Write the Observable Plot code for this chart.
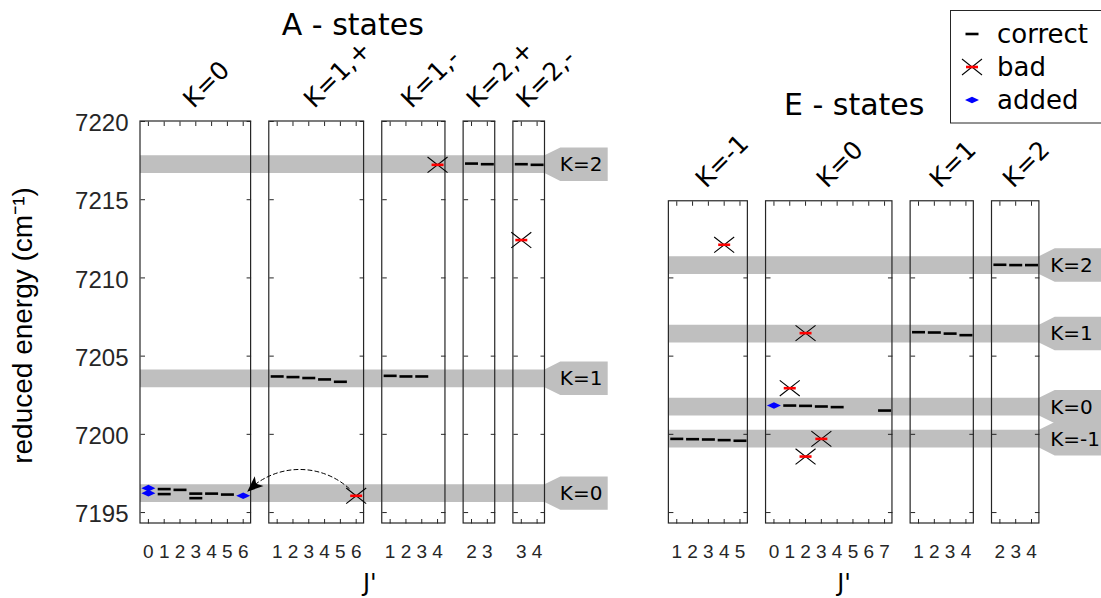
<!DOCTYPE html>
<html><head><meta charset="utf-8">
<script src="https://cdn.jsdelivr.net/npm/d3@7"></script>
<script src="https://cdn.jsdelivr.net/npm/@observablehq/plot@0.6"></script>
<style>
body{margin:0;background:#fff;}
#wrap{position:relative;width:1101px;height:598px;overflow:hidden;background:#fff;}
#legend{position:absolute;left:950px;top:10px;}
</style></head><body>
<div id="wrap"><div id="chart"></div>
<svg id="legend" width="160" height="116" font-family="DejaVu Sans" font-size="26">
  <rect x="0.5" y="0.5" width="170" height="112.5" fill="white" stroke="#262626" stroke-width="1"/>
  <line x1="15.5" x2="28.5" y1="24" y2="24" stroke="black" stroke-width="2.6"/>
  <text x="47" y="32.5" fill="black">correct</text>
  <line x1="12" x2="32" y1="49" y2="65" stroke="black" stroke-width="1.1"/>
  <line x1="12" x2="32" y1="65" y2="49" stroke="black" stroke-width="1.1"/>
  <line x1="16" x2="28" y1="57" y2="57" stroke="red" stroke-width="2.6"/>
  <text x="47" y="66" fill="black">bad</text>
  <path d="M15,90L22,86.7L29,90L22,93.3Z" fill="#0000ff"/>
  <text x="47" y="99" fill="black">added</text>
</svg>
</div>
<script>
// ---- panels (columns) ----
const panelGroup = ["A","A","A","A","A","E","E","E","E"];
const panelLabel = ["K=0","K=1,+","K=1,-","K=2,+","K=2,-","K=-1","K=0","K=1","K=2"];
const panelJmin  = [0,1,1,2,3,1,0,1,2];
const panelJmax  = [6,6,4,3,4,5,7,4,4];

// ---- groups ----
const groupNames = ["A","E"];
const groupTitles = ["A - states","E - states"];
const groupTopEnergy = [7220, 7214.9];
const bottomEnergy = 7194.3;
const yTicks = [7195,7200,7205,7210,7215,7220];

// ---- K bands ----
const bandGroup  = ["A","A","A","E","E","E","E"];
const bandLabel  = ["K=2","K=1","K=0","K=2","K=1","K=0","K=-1"];
const bandEnergy = [7217.24,7203.55,7196.21,7210.79,7206.41,7201.74,7199.69];

// ---- correct levels ----
const correctPanel = [0,0,0,0,0,0,0, 1,1,1,1,1, 2,2,2, 3,3, 4,4, 5,5,5,5,5, 6,6,6,6,6, 7,7,7,7, 8,8,8];
const correctJ     = [1,1,2,3,3,4,5, 1,2,3,4,5, 1,2,3, 2,3, 3,4, 1,2,3,4,5, 1,2,3,4,7, 1,2,3,4, 2,3,4];
const correctE = [7196.50,7196.18,7196.45,7196.21,7195.92,7196.21,7196.15,
  7203.70,7203.66,7203.60,7203.51,7203.36,
  7203.74,7203.70,7203.70,
  7217.31,7217.27,
  7217.27,7217.23,
  7199.71,7199.69,7199.67,7199.63,7199.59,
  7201.84,7201.82,7201.78,7201.74,7201.52,
  7206.53,7206.51,7206.44,7206.34,
  7210.84,7210.82,7210.82];

// ---- bad levels ----
const badPanel = [1,2,4,5,6,6,6,6];
const badJ     = [6,4,3,4,1,2,3,2];
const badE     = [7196.07,7217.23,7212.42,7212.12,7202.95,7206.47,7199.71,7198.58];

// ---- added levels ----
const addedPanel = [0,0,0,6];
const addedJ     = [0,0,6,0];
const addedE     = [7196.56,7196.24,7196.07,7201.84];

// ---- reassignment arrow (bad index -> added index) ----
const arrowFrom = 0, arrowTo = 2;

// ---- layout ----
const panelGap = 1.15, groupGap = 7.84, jPad = 0.5, xMax = 60.82;
let cursor = 0;
const panels = panelLabel.map((label, i) => {
  if (i > 0) cursor += panelGroup[i] === panelGroup[i-1] ? panelGap : groupGap;
  const x1 = cursor;
  cursor += panelJmax[i] - panelJmin[i] + 2*jPad;
  const g = groupNames.indexOf(panelGroup[i]);
  return {label, group: panelGroup[i], jmin: panelJmin[i], jmax: panelJmax[i], x1, x2: cursor,
          offset: x1 + jPad - panelJmin[i], top: groupTopEnergy[g], bottom: bottomEnergy};
});
const ux = (p, j) => panels[p].offset + j;
const groups = groupNames.map((name, k) => {
  const ps = panels.filter(p => p.group === name);
  const x1 = ps[0].x1, x2 = ps[ps.length-1].x2;
  return {name, title: groupTitles[k], x1, x2, center: (x1+x2)/2, top: groupTopEnergy[k], bottom: bottomEnergy};
});

const bandHalf = 0.565, boxHalf = 1.07, flare = 1.0, boxLen = 4.0;
const bands = bandLabel.map((label, i) => {
  const g = groups.find(d => d.name === bandGroup[i]);
  return {key: i, group: bandGroup[i], label, e: bandEnergy[i], start: g.x1, end: g.x2};
});
const bandPts = bands.flatMap(b => [
  {key: b.key, x: b.start, lo: b.e - bandHalf, hi: b.e + bandHalf},
  {key: b.key, x: b.end, lo: b.e - bandHalf, hi: b.e + bandHalf},
  {key: b.key, x: b.end + flare, lo: b.e - boxHalf, hi: b.e + boxHalf},
  {key: b.key, x: Math.min(b.end + boxLen, xMax), lo: b.e - boxHalf, hi: b.e + boxHalf}
]);

const correct = correctPanel.map((p, i) => ({x: ux(p, correctJ[i]), y: correctE[i]}));
const bad = badPanel.map((p, i) => ({x: ux(p, badJ[i]), y: badE[i]}));
const added = addedPanel.map((p, i) => ({x: ux(p, addedJ[i]), y: addedE[i]}));
const arrowRow = {x1: bad[arrowFrom].x, y1: bad[arrowFrom].y, x2: added[arrowTo].x, y2: added[arrowTo].y};

const yTickRows = panels.flatMap(p => yTicks.filter(t => t >= p.bottom && t <= p.top + 1e-9)
  .map(t => ({x1: p.x1, x2: p.x2, y: t})));
const jTickRows = panels.flatMap(p => d3.range(p.jmin, p.jmax + 1)
  .map(j => ({x: p.offset + j, j, top: p.top, bottom: p.bottom})));
const jLookup = new Map(jTickRows.map(d => [d.x, d.j]));

// ---- symbols ----
const TL = 4.5;
const symUp = {draw(c){c.moveTo(0,0);c.lineTo(0,-TL);}};
const symDown = {draw(c){c.moveTo(0,0);c.lineTo(0,TL);}};
const symRight = {draw(c){c.moveTo(0,0);c.lineTo(TL,0);}};
const symLeft = {draw(c){c.moveTo(0,0);c.lineTo(-TL,0);}};
const dashSym = {draw(c){c.moveTo(-6.5,0);c.lineTo(6.5,0);}};
const crossSym = {draw(c){c.moveTo(-10,-7.8);c.lineTo(10,7.8);c.moveTo(-10,7.8);c.lineTo(10,-7.8);}};
const redSym = {draw(c){c.moveTo(-6,0);c.lineTo(6,0);}};
const diamondSym = {draw(c){c.moveTo(-7,0);c.lineTo(0,-3.3);c.lineTo(7,0);c.lineTo(0,3.3);c.closePath();}};
const headSym = {draw(c){c.moveTo(0,0);c.lineTo(-6.5,16);c.lineTo(0,12);c.lineTo(6.5,16);c.closePath();}};

const frameColor = "#262626";
const grey = "#bfbfbf";

const chart = Plot.plot({
  width: 1101, height: 598,
  marginLeft: 140, marginRight: 0, marginTop: 121, marginBottom: 75,
  style: {fontFamily: "DejaVu Sans", background: "white", overflow: "visible"},
  x: {domain: [0, xMax]},
  y: {domain: [bottomEnergy, 7220]},
  marks: [
    Plot.areaY(bandPts, {x: "x", y1: "lo", y2: "hi", z: "key", fill: grey, curve: "linear"}),
    Plot.text(bands.filter(b => b.group === "A"), {x: d => d.end + flare, y: "e", text: "label", textAnchor: "start", fontSize: 20, fill: "black", dx: -1}),
    Plot.text(bands.filter(b => b.group === "E"), {x: d => d.end + flare, y: "e", text: "label", textAnchor: "start", fontSize: 20, fill: "black", dx: -5}),
    Plot.rect(panels, {x1: "x1", x2: "x2", y1: "bottom", y2: "top", fill: "none", stroke: frameColor, strokeWidth: 1.2}),
    Plot.dot(yTickRows, {x: "x1", y: "y", symbol: symRight, fill: "none", stroke: frameColor, strokeWidth: 1}),
    Plot.dot(yTickRows, {x: "x2", y: "y", symbol: symLeft, fill: "none", stroke: frameColor, strokeWidth: 1}),
    Plot.dot(jTickRows, {x: "x", y: "bottom", symbol: symUp, fill: "none", stroke: frameColor, strokeWidth: 1}),
    Plot.dot(jTickRows, {x: "x", y: "top", symbol: symDown, fill: "none", stroke: frameColor, strokeWidth: 1}),
    Plot.axisY(yTicks, {tickSize: 0, tickPadding: 12, dy: 2, tickFormat: d3.format("d"), fontSize: 24, fontFamily: "Liberation Sans", color: frameColor, label: null}),
    Plot.axisX(jTickRows.map(d => d.x), {tickSize: 0, tickPadding: 21, tickFormat: u => String(jLookup.get(u)), fontSize: 19, fontFamily: "Liberation Sans", color: frameColor, label: null}),
    Plot.text(["reduced energy (cm\u207B\u00B9)"], {text: d => d, frameAnchor: "left", textAnchor: "middle", dx: -117, dy: 3, rotate: -90, fontSize: 28, fontFamily: "Liberation Sans", fill: "black"}),
    Plot.text(panels, {x: d => (d.x1 + d.x2)/2, y: "top", text: "label", rotate: -45, textAnchor: "start", dx: -8, dy: -18, fontSize: 25, fill: "black"}),
    Plot.text(groups.filter(g => g.name === "A"), {x: "center", y: "top", text: "title", dy: -96, dx: 10, fontSize: 30, fill: "black"}),
    Plot.text(groups.filter(g => g.name === "E"), {x: "center", y: "top", text: "title", dy: -96, dx: 0, fontSize: 30, fill: "black"}),
    Plot.text(groups.filter(g => g.name === "A"), {x: "center", y: "bottom", text: () => "J'", dy: 60, dx: 27, fontSize: 24, fill: "black"}),
    Plot.text(groups.filter(g => g.name === "E"), {x: "center", y: "bottom", text: () => "J'", dy: 60, dx: -10, fontSize: 24, fill: "black"}),
    Plot.dot(correct, {x: "x", y: "y", symbol: dashSym, fill: "none", stroke: "black", strokeWidth: 2.6}),
    Plot.dot(bad, {x: "x", y: "y", symbol: crossSym, fill: "none", stroke: "black", strokeWidth: 1.1}),
    Plot.dot(bad, {x: "x", y: "y", symbol: redSym, fill: "none", stroke: "red", strokeWidth: 2.6}),
    Plot.dot(added, {x: "x", y: "y", symbol: diamondSym, fill: "#0000ff", stroke: "none"}),
    Plot.arrow([arrowRow], {x1: "x1", y1: "y1", x2: "x2", y2: "y2", bend: -50, headLength: 0, stroke: "black", strokeWidth: 1, strokeDasharray: "4,3", insetStart: 10, insetEnd: 7}),
    Plot.dot([arrowRow], {x: "x2", y: "y2", symbol: headSym, rotate: 228, dx: 4, dy: -4, fill: "black", stroke: "none"})
  ]
});
document.getElementById("chart").appendChild(chart);
</script>
</body></html>
